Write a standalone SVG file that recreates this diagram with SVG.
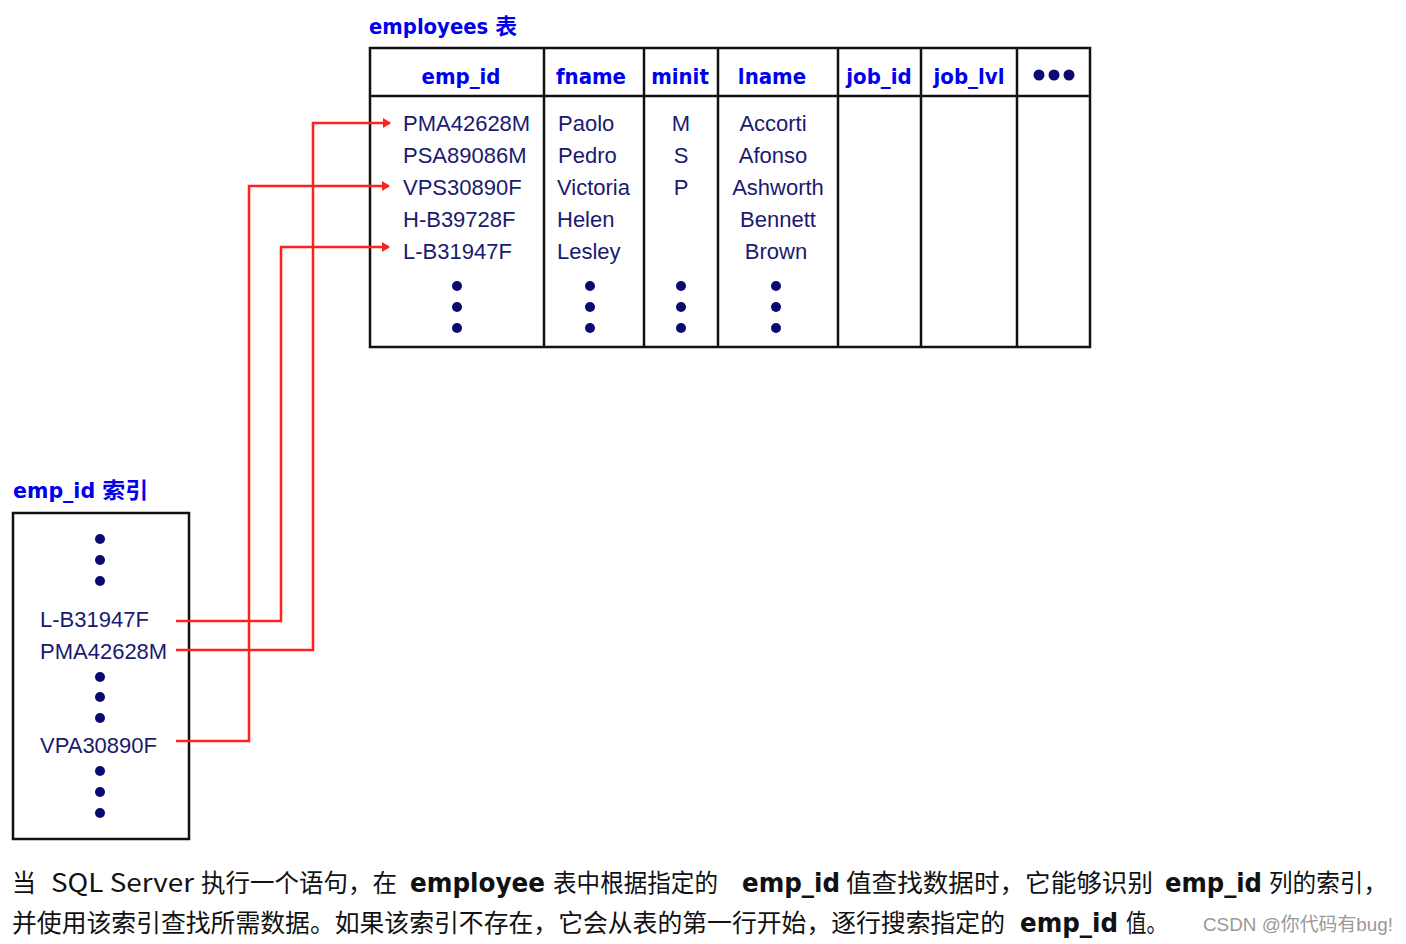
<svg xmlns="http://www.w3.org/2000/svg" width="1406" height="944" viewBox="0 0 1406 944">
<style>
.title{font-family:"DejaVu Sans Condensed","DejaVu Sans","Noto Sans CJK SC",sans-serif;font-weight:bold;font-size:22px;fill:#0000ee}
.hdr{font-family:"DejaVu Sans Condensed","DejaVu Sans",sans-serif;font-weight:bold;font-size:22px;fill:#0000ee;text-anchor:middle}
.cell{font-family:"Liberation Sans",Arial,sans-serif;font-size:22px;fill:#1a1a70}
.mid{text-anchor:middle}
.dot{fill:#0a0a70}
.grid{stroke:#111;stroke-width:2.5;fill:none}
.conn{stroke:#ff2020;stroke-width:2.5;fill:none}
.desc{font-family:"Noto Sans CJK SC","DejaVu Sans",sans-serif;font-size:25px;fill:#111}
.b{font-family:"DejaVu Sans Condensed","DejaVu Sans",sans-serif;font-weight:bold;font-size:27px}
.wm{font-family:"Liberation Sans","Noto Sans CJK SC",sans-serif;font-size:19px;fill:#999}
</style>
<defs>
<marker id="ah" markerWidth="8" markerHeight="10" refX="7" refY="5" orient="auto" markerUnits="userSpaceOnUse">
<path d="M0,0 L8,5 L0,10 Z" fill="#ff2020"/>
</marker>
</defs>
<rect width="1406" height="944" fill="#fff"/>

<g id="employees-table">
<text class="title" x="369" y="34" textLength="148" lengthAdjust="spacingAndGlyphs">employees 表</text>
<rect class="grid" x="370" y="48" width="720" height="299"/>
<line class="grid" x1="370" y1="96" x2="1090" y2="96"/>
<line class="grid" x1="544" y1="48" x2="544" y2="347"/>
<line class="grid" x1="644" y1="48" x2="644" y2="347"/>
<line class="grid" x1="718" y1="48" x2="718" y2="347"/>
<line class="grid" x1="838" y1="48" x2="838" y2="347"/>
<line class="grid" x1="921" y1="48" x2="921" y2="347"/>
<line class="grid" x1="1017" y1="48" x2="1017" y2="347"/>
<text class="hdr" x="461" y="84">emp_id</text>
<text class="hdr" x="591" y="84">fname</text>
<text class="hdr" x="680" y="84">minit</text>
<text class="hdr" x="772" y="84">lname</text>
<text class="hdr" x="879" y="84">job_id</text>
<text class="hdr" x="969" y="84">job_lvl</text>
<circle class="dot" cx="1039" cy="75" r="5.5"/><circle class="dot" cx="1054" cy="75" r="5.5"/><circle class="dot" cx="1069" cy="75" r="5.5"/>

<text class="cell" x="403" y="131">PMA42628M</text>
<text class="cell" x="403" y="163">PSA89086M</text>
<text class="cell" x="403" y="195">VPS30890F</text>
<text class="cell" x="403" y="227">H-B39728F</text>
<text class="cell" x="403" y="259">L-B31947F</text>
<text class="cell" x="558" y="131">Paolo</text>
<text class="cell" x="558" y="163">Pedro</text>
<text class="cell" x="557" y="195">Victoria</text>
<text class="cell" x="557" y="227">Helen</text>
<text class="cell" x="557" y="259">Lesley</text>
<text class="cell mid" x="681" y="131">M</text>
<text class="cell mid" x="681" y="163">S</text>
<text class="cell mid" x="681" y="195">P</text>
<text class="cell mid" x="773" y="131">Accorti</text>
<text class="cell mid" x="773" y="163">Afonso</text>
<text class="cell mid" x="778" y="195">Ashworth</text>
<text class="cell mid" x="778" y="227">Bennett</text>
<text class="cell mid" x="776" y="259">Brown</text>
<g class="dot">
<circle cx="457" cy="286" r="5"/><circle cx="457" cy="307" r="5"/><circle cx="457" cy="328" r="5"/>
<circle cx="590" cy="286" r="5"/><circle cx="590" cy="307" r="5"/><circle cx="590" cy="328" r="5"/>
<circle cx="681" cy="286" r="5"/><circle cx="681" cy="307" r="5"/><circle cx="681" cy="328" r="5"/>
<circle cx="776" cy="286" r="5"/><circle cx="776" cy="307" r="5"/><circle cx="776" cy="328" r="5"/>
</g>
</g>

<g id="emp-id-index">
<text class="title" x="13" y="498" textLength="135" lengthAdjust="spacingAndGlyphs">emp_id 索引</text>
<rect class="grid" x="13" y="513" width="176" height="326"/>
<text class="cell" x="40" y="627">L-B31947F</text>
<text class="cell" x="40" y="659">PMA42628M</text>
<text class="cell" x="40" y="753">VPA30890F</text>
<g class="dot">
<circle cx="100" cy="539" r="5"/><circle cx="100" cy="560" r="5"/><circle cx="100" cy="581" r="5"/>
<circle cx="100" cy="677" r="5"/><circle cx="100" cy="697" r="5"/><circle cx="100" cy="718" r="5"/>
<circle cx="100" cy="771" r="5"/><circle cx="100" cy="792" r="5"/><circle cx="100" cy="813" r="5"/>
</g>
</g>

<g id="connectors">
<polyline class="conn" points="176,621 281,621 281,247 389,247" marker-end="url(#ah)"/>
<polyline class="conn" points="176,650 313,650 313,123 390,123" marker-end="url(#ah)"/>
<polyline class="conn" points="176,741 249,741 249,186 389,186" marker-end="url(#ah)"/>
</g>

<g id="caption">
<text class="desc" x="12" y="892" textLength="24" lengthAdjust="spacingAndGlyphs">当</text>
<text class="desc" x="51" y="892" textLength="143" lengthAdjust="spacingAndGlyphs">SQL Server</text>
<text class="desc" x="201" y="892" textLength="196" lengthAdjust="spacingAndGlyphs">执行一个语句，在</text>
<text class="desc b" x="410" y="892" textLength="135" lengthAdjust="spacingAndGlyphs">employee</text>
<text class="desc" x="553" y="892" textLength="165" lengthAdjust="spacingAndGlyphs">表中根据指定的</text>
<text class="desc b" x="742" y="892" textLength="98" lengthAdjust="spacingAndGlyphs">emp_id</text>
<text class="desc" x="846" y="892" textLength="307" lengthAdjust="spacingAndGlyphs">值查找数据时，它能够识别</text>
<text class="desc b" x="1165" y="892" textLength="97" lengthAdjust="spacingAndGlyphs">emp_id</text>
<text class="desc" x="1269" y="892" textLength="118" lengthAdjust="spacingAndGlyphs">列的索引，</text>
<text class="desc" x="12" y="932" textLength="993" lengthAdjust="spacingAndGlyphs">并使用该索引查找所需数据。如果该索引不存在，它会从表的第一行开始，逐行搜索指定的</text>
<text class="desc b" x="1020" y="932" textLength="98" lengthAdjust="spacingAndGlyphs">emp_id</text>
<text class="desc" x="1126" y="932" textLength="41" lengthAdjust="spacingAndGlyphs">值。</text>
<text class="wm" x="1203" y="931" textLength="190" lengthAdjust="spacingAndGlyphs">CSDN @你代码有bug!</text>
</g>
</svg>
